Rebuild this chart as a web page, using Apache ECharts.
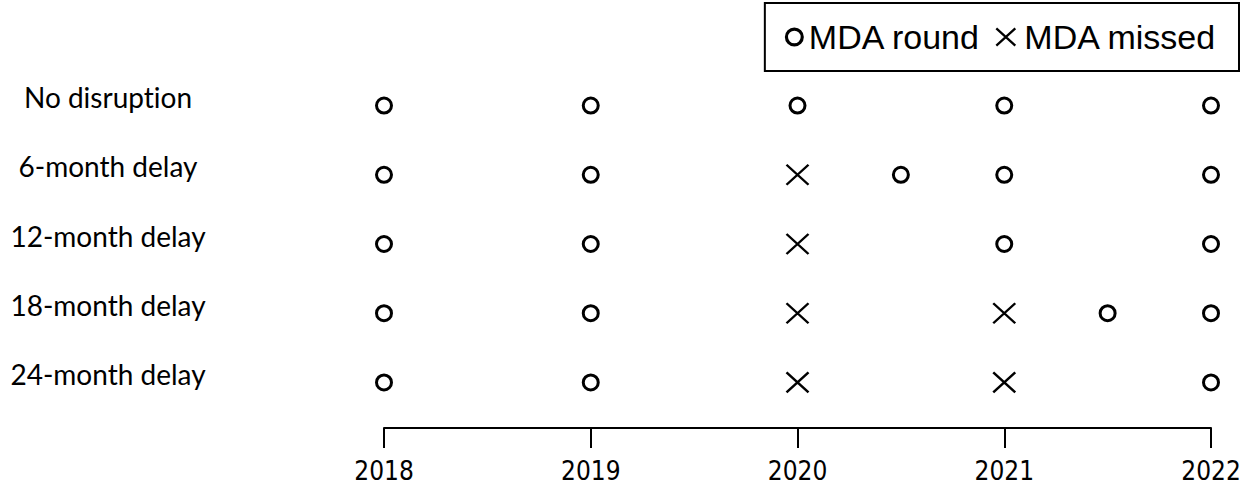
<!DOCTYPE html>
<html>
<head>
<meta charset="utf-8">
<script src="https://cdn.jsdelivr.net/npm/echarts@6/dist/echarts.min.js"></script>
<style>html,body{margin:0;padding:0;background:#fff;}#c{width:1244px;height:485px;}#c text{font-variant-ligatures:none;}</style>
</head>
<body>
<div id="c"></div>
<script>
// ---- data ----
const scenarios = ['No disruption', '6-month delay', '12-month delay', '18-month delay', '24-month delay'];
const yearTicks = [2018, 2019, 2020, 2021, 2022];
// MDA rounds delivered, per scenario (years)
const roundsNoDisruption = [2018, 2019, 2020, 2021, 2022];
const rounds6Month = [2018, 2019, 2020.5, 2021, 2022];
const rounds12Month = [2018, 2019, 2021, 2022];
const rounds18Month = [2018, 2019, 2021.5, 2022];
const rounds24Month = [2018, 2019, 2022];
// MDA rounds missed, per scenario (years)
const missedNoDisruption = [];
const missed6Month = [2020];
const missed12Month = [2020];
const missed18Month = [2020, 2021];
const missed24Month = [2020, 2021];

const roundsByScenario = [roundsNoDisruption, rounds6Month, rounds12Month, rounds18Month, rounds24Month];
const missedByScenario = [missedNoDisruption, missed6Month, missed12Month, missed18Month, missed24Month];

const roundData = [];
roundsByScenario.forEach((arr, i) => arr.forEach(x => roundData.push([x, scenarios[i]])));
const missedData = [];
missedByScenario.forEach((arr, i) => arr.forEach(x => missedData.push([x, scenarios[i]])));

// ring ("o") and cross ("×") marker shapes
const ringPath = 'path://M9,0A9,9 0 1,1 9,18A9,9 0 1,1 9,0ZM9,3A6,6 0 1,0 9,15A6,6 0 1,0 9,3Z';
const crossPath = 'path://M0,0L20,18M20,0L0,18';

const chart = echarts.init(document.getElementById('c'), null, {renderer: 'svg'});
chart.setOption({
  animation: false,
  backgroundColor: '#fff',
  grid: {left: 384, right: 33, top: 71, height: 346, containLabel: false},
  legend: {
    right: 5, top: 3, orient: 'horizontal',
    padding: [17, 22, 17, 20],
    borderColor: '#000', borderWidth: 2, borderRadius: 0,
    itemWidth: 19, itemHeight: 19, itemGap: 13,
    textStyle: {fontFamily: "'Liberation Sans', Arial, sans-serif", fontSize: 34, color: '#000'},
    data: [
      {name: 'MDA round', icon: ringPath, itemStyle: {color: '#000', borderWidth: 0, opacity: 1}},
      {name: 'MDA missed', icon: crossPath,
       itemStyle: {color: 'none', borderColor: '#000', borderWidth: 2.3, opacity: 1},
       textStyle: {padding: [0, 0, 0, 4]}}
    ]
  },
  xAxis: {
    type: 'value', min: 2018, max: 2022, interval: 1,
    offset: 11,
    axisLine: {show: true, lineStyle: {color: '#000', width: 2}},
    axisTick: {show: true, inside: false, length: 20, lineStyle: {color: '#000', width: 2}},
    splitLine: {show: false},
    axisLabel: {
      color: '#000', fontSize: 26, margin: 30,
      fontFamily: "'Liberation Sans Narrow', 'Arial Narrow', 'DejaVu Sans Condensed', sans-serif",
      formatter: v => (yearTicks.indexOf(v) >= 0 ? String(v) : '')
    }
  },
  yAxis: {
    type: 'category', data: scenarios, inverse: true,
    axisLine: {show: false}, axisTick: {show: false}, splitLine: {show: false},
    axisLabel: {
      color: '#000', fontSize: 28, fontFamily: "Lato, 'Open Sans', sans-serif",
      align: 'center', margin: 276, verticalAlign: 'bottom', lineHeight: 17
    }
  },
  series: [
    {
      name: 'MDA round', type: 'scatter', data: roundData,
      symbol: ringPath, symbolSize: 18,
      itemStyle: {color: '#000', opacity: 1, borderWidth: 0},
      emphasis: {disabled: true}
    },
    {
      name: 'MDA missed', type: 'scatter', data: missedData,
      symbol: crossPath, symbolSize: [22, 20],
      itemStyle: {color: 'none', borderColor: '#000', borderWidth: 2.3, opacity: 1},
      emphasis: {disabled: true}
    }
  ]
});
</script>
</body>
</html>
